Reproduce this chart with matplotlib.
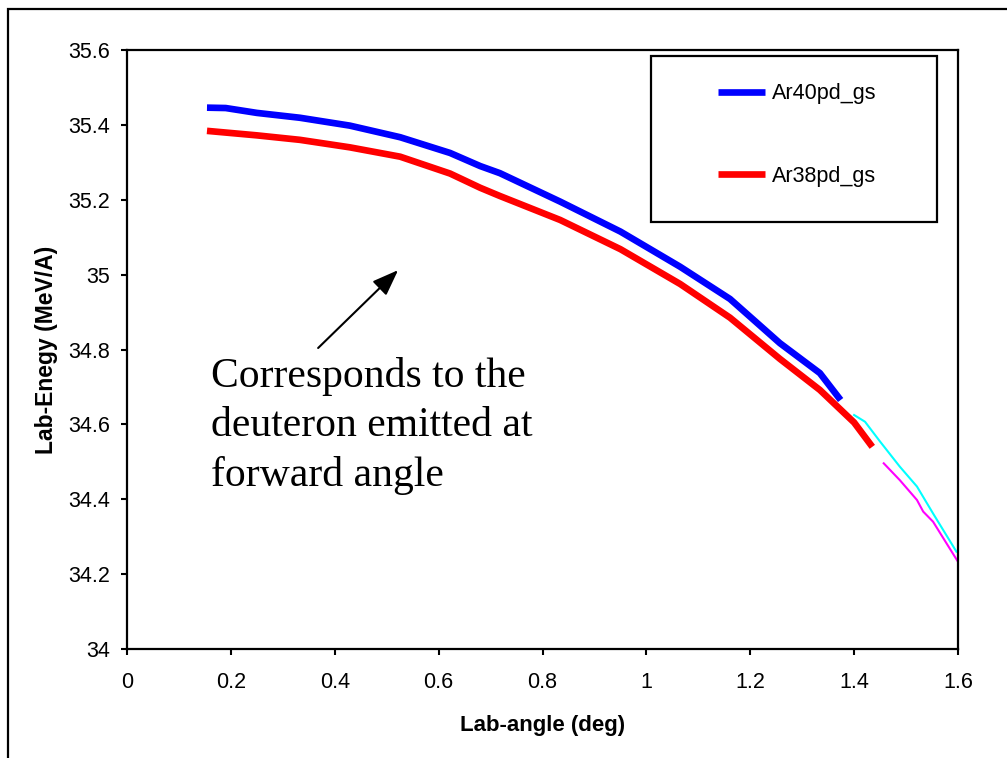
import matplotlib
matplotlib.use("Agg")
import matplotlib.pyplot as plt
from matplotlib.patches import Rectangle

# Ar40 (p,d) ground state: lab angle (deg) vs lab energy (MeV/A)
ar40_angle = [0.154, 0.19, 0.25, 0.333, 0.429, 0.526, 0.622, 0.680, 0.718,
              0.834, 0.950, 1.065, 1.161, 1.257, 1.334, 1.374]
ar40_energy = [35.446, 35.445, 35.432, 35.419, 35.398, 35.367, 35.325, 35.290, 35.271,
               35.195, 35.115, 35.021, 34.935, 34.817, 34.737, 34.665]

# Ar38 (p,d) ground state
ar38_angle = [0.154, 0.25, 0.333, 0.429, 0.526, 0.622, 0.680, 0.718,
              0.834, 0.950, 1.065, 1.161, 1.257, 1.334, 1.400, 1.435]
ar38_energy = [35.384, 35.372, 35.360, 35.340, 35.315, 35.270, 35.232, 35.210,
               35.146, 35.068, 34.975, 34.885, 34.775, 34.692, 34.605, 34.540]

# thin branches past the end of the thick curves
cyan_angle = [1.400, 1.421, 1.450, 1.488, 1.521, 1.552, 1.597]
cyan_energy = [34.625, 34.607, 34.554, 34.487, 34.434, 34.362, 34.260]
magenta_angle = [1.457, 1.488, 1.521, 1.533, 1.552, 1.578, 1.600]
magenta_energy = [34.496, 34.451, 34.398, 34.367, 34.340, 34.282, 34.233]

x_ticks = [0, 0.2, 0.4, 0.6, 0.8, 1, 1.2, 1.4, 1.6]
x_tick_labels = ["0", "0.2", "0.4", "0.6", "0.8", "1", "1.2", "1.4", "1.6"]
y_ticks = [34, 34.2, 34.4, 34.6, 34.8, 35, 35.2, 35.4, 35.6]
y_tick_labels = ["34", "34.2", "34.4", "34.6", "34.8", "35", "35.2", "35.4", "35.6"]

note_text = "Corresponds to the\ndeuteron emitted at\nforward angle"
arrow_tail = (0.368, 34.804)
arrow_head = (0.522, 35.012)

plt.rcParams["font.family"] = ["Liberation Sans", "DejaVu Sans"]

W, H = 1007, 758
fig = plt.figure(figsize=(W / 100, H / 100), dpi=100)
ax = fig.add_axes([127 / W, 1 - 649 / H, 831 / W, 599 / H])

ax.plot(ar40_angle, ar40_energy, color="#0000ff", lw=4.8,
        solid_capstyle="butt", label="Ar40pd_gs")
ax.plot(ar38_angle, ar38_energy, color="#ff0000", lw=4.8,
        solid_capstyle="butt", label="Ar38pd_gs")
ax.plot(cyan_angle, cyan_energy, color="#00ffff", lw=1.5)
ax.plot(magenta_angle, magenta_energy, color="#ff00ff", lw=1.5)

ax.set_xlim(0, 1.6)
ax.set_ylim(34, 35.6)
ax.set_xticks(x_ticks)
ax.set_xticklabels(x_tick_labels)
ax.set_yticks(y_ticks)
ax.set_yticklabels(y_tick_labels)
ax.tick_params(axis="both", direction="out", length=4.3, width=1.5, labelsize=15.5)
ax.tick_params(axis="x", pad=12)
ax.tick_params(axis="y", pad=8)
for sp in ax.spines.values():
    sp.set_linewidth(1.6)

ax.set_xlabel("Lab-angle (deg)", fontsize=16, fontweight="bold")
ax.set_ylabel("Lab-Enegy (MeV/A)", fontsize=16.5, fontweight="bold")
ax.xaxis.set_label_coords(0.5, -0.11)
ax.yaxis.set_label_coords(-0.083, 0.5)

ax.annotate("", xy=arrow_head, xytext=arrow_tail,
            arrowprops=dict(arrowstyle="-|>,head_length=0.8,head_width=0.3",
                            color="black", lw=1.5, shrinkA=0, shrinkB=0,
                            mutation_scale=20))
ax.text(0.161, 34.78, note_text, fontsize=30, va="top", ha="left",
        family=["Liberation Serif", "DejaVu Serif"], linespacing=1.36)

# legend: frameless entries inside a hand-drawn box
leg = fig.legend(loc="center", bbox_to_anchor=(797 / W, 1 - 135 / H),
                 frameon=False, fontsize=15.5, handlelength=2.2,
                 handletextpad=0.3, labelspacing=2.85, borderpad=0)
fig.add_artist(Rectangle((651 / W, 1 - 222 / H), 286 / W, 166 / H,
                         transform=fig.transFigure, fill=False,
                         edgecolor="black", lw=1.6))

# outer chart border, cut off at right and bottom like the source
fig.add_artist(Rectangle((8 / W, -0.1), 1.2, 1 - 9 / H + 0.1,
                         transform=fig.transFigure, fill=False,
                         edgecolor="black", lw=1.6, clip_on=False))

fig.savefig("out.png", dpi=100)
